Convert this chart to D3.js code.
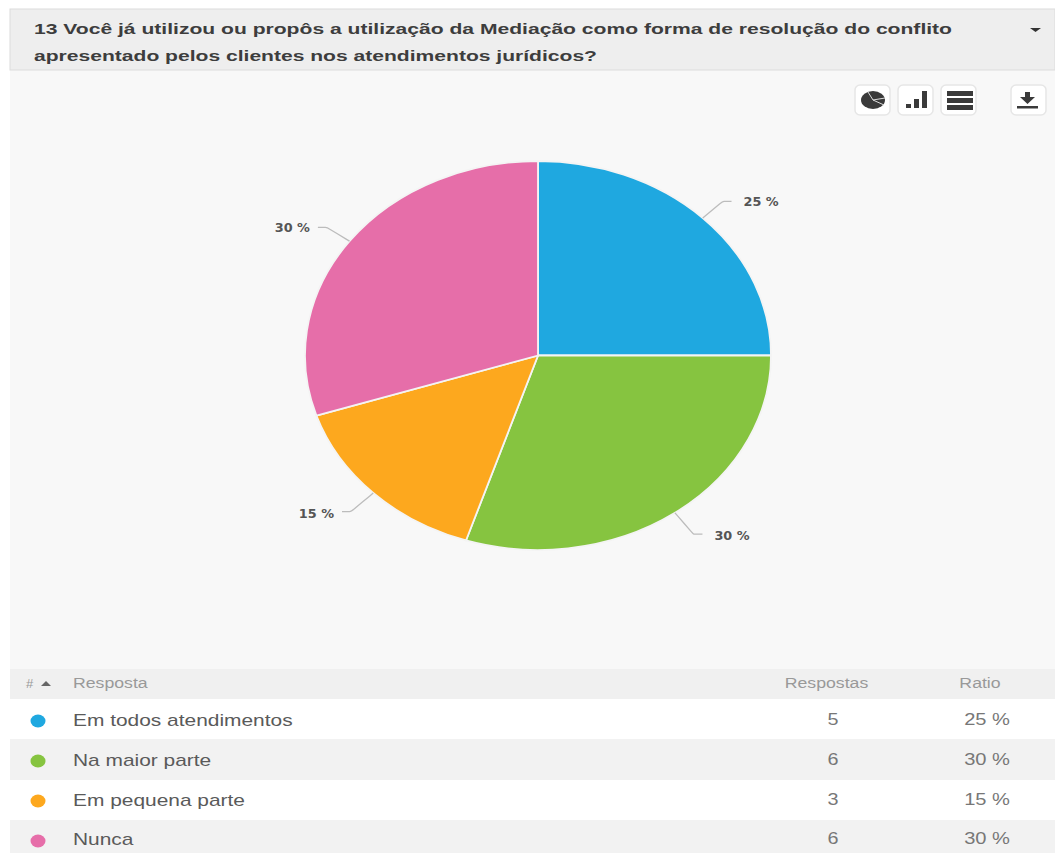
<!DOCTYPE html>
<html lang="pt">
<head>
<meta charset="utf-8">
<script src="https://cdn.jsdelivr.net/npm/d3@7"></script>
<style>
  html, body { margin: 0; padding: 0; background: #fff; overflow: hidden; }
  svg { display: block; }
  text { font-family: "Liberation Sans", Arial, sans-serif; }
</style>
</head>
<body>
<svg id="chart" width="1055" height="853"></svg>
<script>
const titleLines = [
  "13 Você já utilizou ou propôs a utilização da Mediação como forma de resolução do conflito",
  "apresentado pelos clientes nos atendimentos jurídicos?"
];
const categories = ["Em todos atendimentos", "Na maior parte", "Em pequena parte", "Nunca"];
const responses = [5, 6, 3, 6];
const ratios = [25, 30, 15, 30];
const colors = ["#1fa8e0", "#86c440", "#fda81e", "#e66ea9"];
const columnHeaders = ["Resposta", "Respostas", "Ratio"];

const svg = d3.select("#chart");
const W = 1055, H = 853;

// Text drawn wider than its natural proportions
function wideText(parent, x, y, k, str) {
  return parent.append("text")
    .attr("transform", `translate(${x},${y}) scale(${k},1)`)
    .text(str);
}

// Panel: heading strip, chart area, table
svg.append("rect").attr("x", 10).attr("y", 70).attr("width", W - 10).attr("height", 599).attr("fill", "#f8f8f8");
svg.append("rect").attr("x", 10).attr("y", 9).attr("width", W - 10).attr("height", 61)
  .attr("fill", "#eeeeee").attr("stroke", "#dcdcdc");

const titleEnds = [918, 563];
svg.selectAll("text.title").data(titleLines).join("text")
  .attr("class", "title")
  .attr("x", 34)
  .attr("y", (d, i) => 34 + i * 27)
  .attr("font-size", 15).attr("font-weight", 700).attr("fill", "#3d3d3d")
  .attr("textLength", (d, i) => titleEnds[i]).attr("lengthAdjust", "spacingAndGlyphs")
  .text(d => d);

// Caret of the heading strip
svg.append("path").attr("d", d3.line()([[1030, 28], [1041, 28], [1035.5, 32]]) + "Z").attr("fill", "#333");

// Toolbar buttons
const buttonX = [855, 898, 941, 1011];
const toolbar = svg.append("g");
buttonX.forEach(x => {
  toolbar.append("rect").attr("x", x).attr("y", 85).attr("width", 35).attr("height", 30).attr("rx", 5)
    .attr("fill", "#ffffff").attr("stroke", "#e6e6e6").attr("stroke-width", 1.5);
});
const ink = "#3a3a3a";
// pie icon
toolbar.append("ellipse").attr("cx", 873).attr("cy", 100).attr("rx", 12).attr("ry", 9).attr("fill", ink);
toolbar.append("path").attr("d", "M873 100L885 98M873 100L884 105M873 100L868 92").attr("stroke", "#ddd").attr("stroke-width", 1).attr("fill", "none");
// bars icon
[[906, 4, 5], [914, 9, 5], [922, 17, 5]].forEach(([x, h, w]) => {
  toolbar.append("rect").attr("x", x).attr("y", 108 - h).attr("width", w).attr("height", h).attr("fill", ink);
});
// table icon
[91, 98, 105].forEach(y => {
  toolbar.append("rect").attr("x", 947).attr("y", y).attr("width", 26).attr("height", 5).attr("fill", ink);
});
// download icon
toolbar.append("path").attr("d", "M1025 92h5v5h5l-7.5 7l-7.5-7h5z").attr("fill", ink);
toolbar.append("rect").attr("x", 1017).attr("y", 106).attr("width", 21).attr("height", 2.5).attr("fill", ink);

// Pie: circle of radius R squeezed vertically
const cx = 538, cy = 355.5, R = 233, squeeze = 194.5 / 233;
const pie = d3.pie().sort(null).value(d => d)(responses);
const arc = d3.arc().innerRadius(0).outerRadius(R);
const pieG = svg.append("g").attr("transform", `translate(${cx},${cy}) scale(1,${squeeze})`);
pieG.selectAll("path").data(pie).join("path")
  .attr("d", arc)
  .attr("fill", (d, i) => colors[i])
  .attr("stroke", "#f4f4f4").attr("stroke-width", 1.8)
  .attr("vector-effect", "non-scaling-stroke");

// Leader lines and percentage labels
const polar = (angle, r) => [cx + r * Math.sin(angle), cy - r * squeeze * Math.cos(angle)];
const connector = d3.line().curve(d3.curveBasis);
pie.forEach((d, i) => {
  const mid = (d.startAngle + d.endAngle) / 2;
  const side = Math.sin(mid) >= 0 ? 1 : -1;
  const lower = Math.cos(mid) < 0;
  const a = polar(mid, R), b = polar(mid, R * (lower ? 1.135 : 1.12));
  const end = [b[0] + side * 9, b[1]];
  svg.append("path")
    .attr("d", connector([a, b, b, end]))
    .attr("fill", "none").attr("stroke", "#bcbcbc").attr("stroke-width", 1.3);
  const gap = side > 0 ? 12 : 8;
  const label = wideText(svg, end[0] + side * gap, end[1] + (lower ? 6 : 5), 1.07, ratios[i] + " %")
    .attr("text-anchor", side > 0 ? "start" : "end")
    .attr("font-size", 12).attr("font-weight", 700).attr("fill", "#555");
  label.style("font-family", "'DejaVu Sans'");
});

// Table
const rowTop = [699, 739, 780, 820, 853];
const rowBase = [726, 766, 806, 845];
const rowDot = [721, 761, 801, 841];
svg.append("rect").attr("x", 10).attr("y", 669).attr("width", W - 10).attr("height", 30).attr("fill", "#f0f0f0");
categories.forEach((c, i) => {
  const y0 = rowTop[i], y1 = rowTop[i + 1], base = rowBase[i];
  svg.append("rect").attr("x", 10).attr("y", y0).attr("width", W - 10).attr("height", y1 - y0)
    .attr("fill", i % 2 ? "#f2f2f2" : "#ffffff");
  svg.append("ellipse").attr("cx", 38).attr("cy", rowDot[i]).attr("rx", 7.5).attr("ry", 6.5).attr("fill", colors[i]);
  wideText(svg, 73, base, 1.23, c).attr("font-size", 17).attr("fill", "#5a5a5a");
  wideText(svg, 833, base - 1, 1.2, responses[i]).attr("text-anchor", "middle").attr("font-size", 16.5).attr("fill", "#777");
  wideText(svg, 1010, base - 1, 1.22, ratios[i] + " %").attr("text-anchor", "end").attr("font-size", 16.5).attr("fill", "#777");
});

// Table header row
svg.append("text").attr("x", 26).attr("y", 688).attr("font-size", 13).attr("fill", "#999").text("#");
svg.append("path").attr("d", d3.line()([[41, 686], [51, 686], [46, 681]]) + "Z").attr("fill", "#666");
wideText(svg, 73, 688, 1.22, columnHeaders[0]).attr("font-size", 14.5).attr("fill", "#999");
wideText(svg, 826.5, 688, 1.22, columnHeaders[1]).attr("text-anchor", "middle").attr("font-size", 14.5).attr("fill", "#999");
wideText(svg, 980, 688, 1.22, columnHeaders[2]).attr("text-anchor", "middle").attr("font-size", 14.5).attr("fill", "#999");
</script>
</body>
</html>
